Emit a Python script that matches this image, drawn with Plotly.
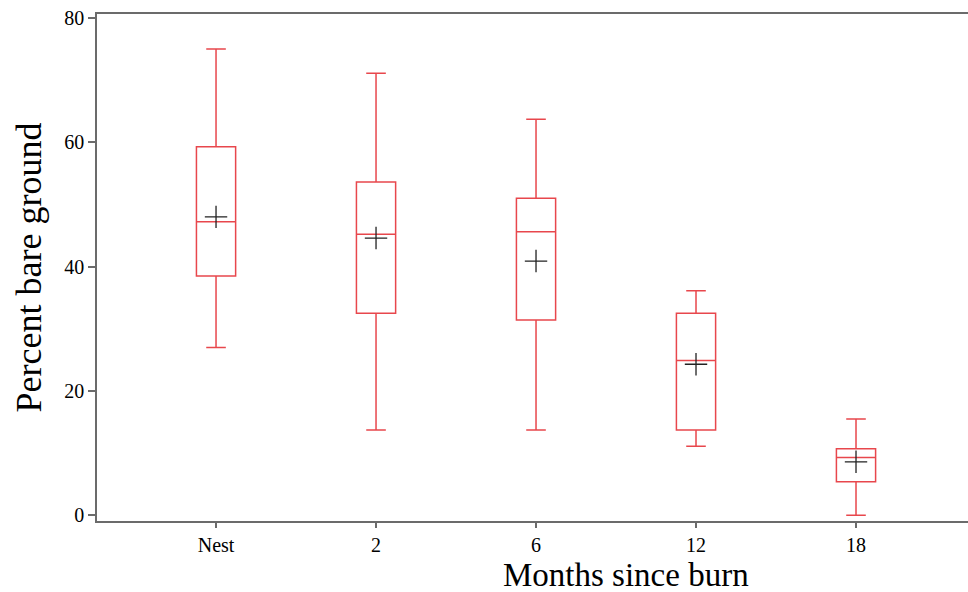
import plotly.graph_objects as go

categories = ["Nest", "2", "6", "12", "18"]
lower_whisker = [27.0, 13.7, 13.7, 11.1, 0.0]
q1 = [38.5, 32.5, 31.4, 13.7, 5.4]
median = [47.2, 45.2, 45.6, 24.9, 9.3]
q3 = [59.3, 53.6, 51.0, 32.5, 10.7]
upper_whisker = [75.0, 71.1, 63.7, 36.1, 15.5]
means = [48.0, 44.6, 40.9, 24.3, 8.6]
y_ticks = [0, 20, 40, 60, 80]

pos = list(range(len(categories)))
red = "#e8474c"
axis_color = "#6b6b6b"
font_family = "Liberation Serif, Times New Roman, serif"

fig = go.Figure()
fig.add_trace(go.Box(
    x=pos, q1=q1, median=median, q3=q3,
    lowerfence=lower_whisker, upperfence=upper_whisker,
    width=0.245, whiskerwidth=0.5,
    fillcolor="white", line=dict(color=red, width=1.5),
    boxpoints=False, showlegend=False, hoverinfo="skip",
))
fig.add_trace(go.Scatter(
    x=pos, y=means, mode="markers",
    marker=dict(symbol="cross-thin-open", size=16, color="#222222",
                line=dict(color="#222222", width=1.3)),
    showlegend=False,
))

fig.update_layout(
    width=968, height=592,
    margin=dict(l=97, r=0, t=14, b=71),
    plot_bgcolor="white", paper_bgcolor="white",
    font=dict(family=font_family, color="black", size=20),
    xaxis=dict(
        tickmode="array", tickvals=pos, ticktext=categories,
        range=[-0.744, 4.7], showgrid=False, zeroline=False,
        showline=True, linecolor=axis_color, linewidth=1.5, mirror=True,
        ticks="outside", ticklen=5, tickcolor=axis_color, tickwidth=1.5,
        tickfont=dict(size=20), ticklabelstandoff=0,
    ),
    yaxis=dict(
        tickmode="array", tickvals=y_ticks,
        range=[-0.92, 80.64], showgrid=False, zeroline=False,
        showline=True, linecolor=axis_color, linewidth=1.5,
        ticks="outside", ticklen=7, tickcolor=axis_color, tickwidth=1.5,
        tickfont=dict(size=20),
        title=dict(text="Percent bare ground", font=dict(size=36), standoff=12),
    ),
    annotations=[dict(
        text="Months since burn", xref="paper", yref="paper",
        x=(626 - 97) / 871, y=-(575 - 520.7) / 506.3,
        xanchor="center", yanchor="middle", showarrow=False,
        font=dict(size=33, family=font_family, color="black"),
    )],
)

fig.write_html("out.html")
